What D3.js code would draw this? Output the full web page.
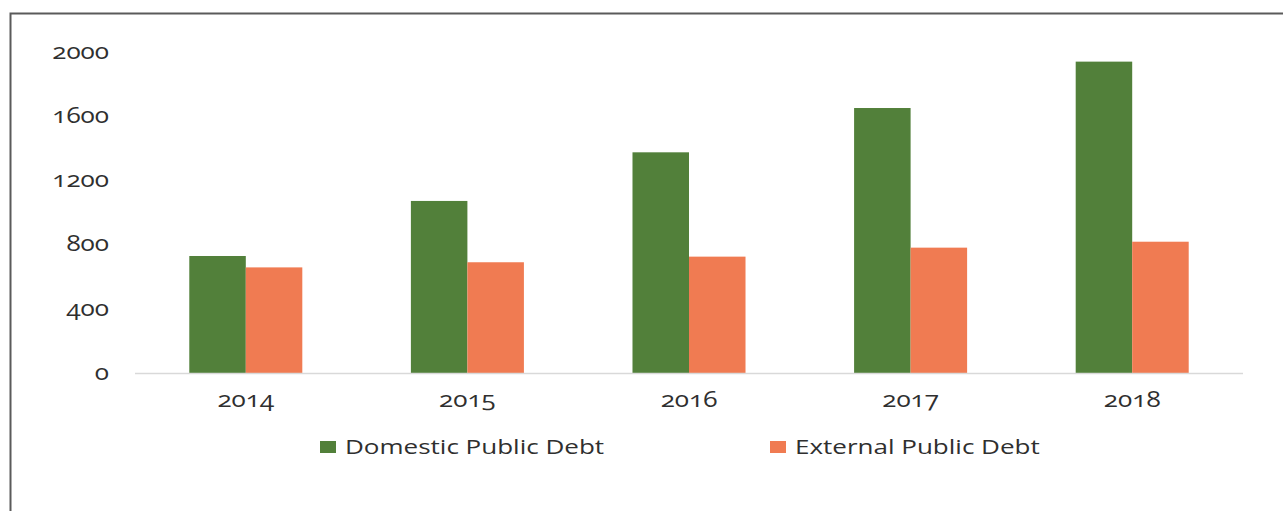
<!DOCTYPE html>
<html>
<head>
<meta charset="utf-8">
<script src="https://cdn.jsdelivr.net/npm/d3@7"></script>
<style>
  html, body { margin: 0; padding: 0; background: #fff; }
  svg { display: block; }
  text { font-family: "Open Sans", "Lato", sans-serif; fill: #2f2f2f; font-variant-numeric: oldstyle-nums; font-feature-settings: "onum" 1; }
</style>
</head>
<body>
<svg id="chart" width="1283" height="511"></svg>
<script>
// Public debt by year
const years = ["2014", "2015", "2016", "2017", "2018"];
const domesticDebt = [729, 1072, 1375, 1651, 1940];
const externalDebt = [658, 690, 725, 781, 818];
const seriesNames = ["Domestic Public Debt", "External Public Debt"];
const seriesColors = ["#52803a", "#f07b52"];
const yTicks = [0, 400, 800, 1200, 1600, 2000];

const rows = years.map((y, i) => ({ year: y, values: [domesticDebt[i], externalDebt[i]] }));

const svg = d3.select("#chart");
const W = 1283, H = 511;
const plot = { left: 135, right: 1243, top: 52, bottom: 373 };
const stretch = 1.24; // horizontal widening of all labels

// outer frame (open to the right and bottom)
svg.append("path")
  .attr("d", `M${W + 5},13.5 H10.5 V${H + 5}`)
  .attr("fill", "none")
  .attr("stroke", "#5a5a5a")
  .attr("stroke-width", 2);

const y = d3.scaleLinear().domain([0, 2000]).range([plot.bottom, plot.top]);
const x0 = d3.scaleBand().domain(years).range([plot.left, plot.right])
  .paddingInner(0.49).paddingOuter(0.245);
const x1 = d3.scaleBand().domain(seriesNames).range([0, x0.bandwidth()]);
const color = d3.scaleOrdinal().domain(seriesNames).range(seriesColors);

function widen(sel) {
  sel.each(function () {
    const len = this.getComputedTextLength();
    d3.select(this).attr("textLength", len * stretch).attr("lengthAdjust", "spacingAndGlyphs");
  });
}

// bars
const groups = svg.append("g").selectAll("g").data(rows).join("g")
  .attr("transform", d => `translate(${x0(d.year)},0)`);
groups.selectAll("rect")
  .data(d => d.values.map((v, k) => ({ key: seriesNames[k], value: v })))
  .join("rect")
  .attr("x", d => x1(d.key))
  .attr("y", d => y(d.value))
  .attr("width", x1.bandwidth())
  .attr("height", d => y(0) - y(d.value))
  .attr("fill", d => color(d.key));

// category axis
const xAxis = svg.append("g")
  .attr("transform", `translate(0,${plot.bottom})`)
  .call(d3.axisBottom(x0).tickSize(0).tickPadding(0));
xAxis.select(".domain").attr("stroke", "#d9d9d9").attr("stroke-width", 1.5)
  .attr("d", `M${plot.left},0.5H${plot.right}`);
xAxis.selectAll("text")
  .attr("y", 34).attr("dy", null)
  .style("font-size", "21px")
  .attr("fill", "#2f2f2f");
widen(xAxis.selectAll("text"));

// value axis
const yAxis = svg.append("g")
  .attr("transform", `translate(109,0)`)
  .call(d3.axisLeft(y).tickValues(yTicks).tickSize(0).tickPadding(0).tickFormat(d3.format("d")));
yAxis.select(".domain").remove();
yAxis.selectAll("text")
  .attr("x", 0).attr("dy", "0.3em")
  .style("font-size", "21px")
  .attr("fill", "#2f2f2f");
widen(yAxis.selectAll("text"));

// legend
const legendPos = [320, 770];
const legend = svg.append("g").selectAll("g").data(seriesNames).join("g")
  .attr("transform", (d, i) => `translate(${legendPos[i]},441)`);
legend.append("rect")
  .attr("width", 16).attr("height", 12)
  .attr("fill", d => color(d));
legend.append("text")
  .attr("x", 25).attr("y", 12.5)
  .style("font-size", "20px")
  .text(d => d);
legend.selectAll("text").each(function () {
  const len = this.getComputedTextLength();
  d3.select(this).attr("textLength", len * 1.3).attr("lengthAdjust", "spacingAndGlyphs");
});
</script>
</body>
</html>
